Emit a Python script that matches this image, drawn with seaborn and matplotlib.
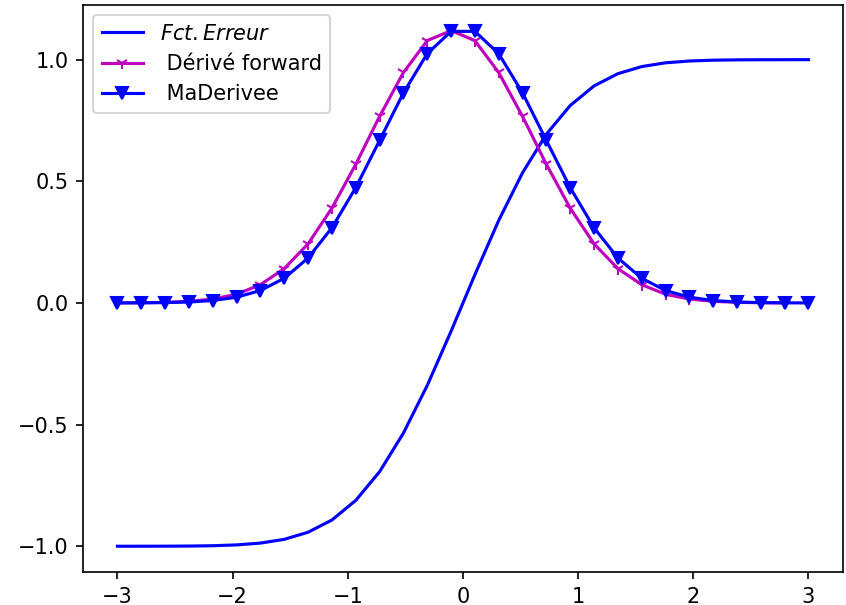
import matplotlib
matplotlib.use("Agg")
import matplotlib.pyplot as plt
import seaborn as sns

# x grid (30 points from -3 to 3)
x = [-3.000, -2.793, -2.586, -2.379, -2.172, -1.966, -1.759, -1.552, -1.345, -1.138,
     -0.931, -0.724, -0.517, -0.310, -0.103, 0.103, 0.310, 0.517, 0.724, 0.931,
     1.138, 1.345, 1.552, 1.759, 1.966, 2.172, 2.379, 2.586, 2.793, 3.000]

# error function curve
erreur = [-1.0000, -0.9999, -0.9997, -0.9992, -0.9979, -0.9945, -0.9871, -0.9716, -0.9424, -0.8921,
          -0.8115, -0.6936, -0.5349, -0.3389, -0.1158, 0.1158, 0.3389, 0.5349, 0.6936, 0.8115,
          0.8921, 0.9424, 0.9716, 0.9871, 0.9945, 0.9979, 0.9992, 0.9997, 0.9999, 1.0000]

# forward difference derivative (one point less)
forward = [0.0003, 0.0009, 0.0025, 0.0067, 0.0160, 0.0357, 0.0751, 0.1411, 0.2431, 0.3896,
           0.5698, 0.7670, 0.9473, 1.0783, 1.1194, 1.0783, 0.9473, 0.7670, 0.5698, 0.3896,
           0.2431, 0.1411, 0.0751, 0.0357, 0.0160, 0.0067, 0.0025, 0.0009, 0.0003]

# exact derivative
derivee = [0.0001, 0.0005, 0.0014, 0.0039, 0.0101, 0.0236, 0.0511, 0.1014, 0.1848, 0.3090,
           0.4740, 0.6679, 0.8636, 1.0248, 1.1164, 1.1164, 1.0248, 0.8636, 0.6679, 0.4740,
           0.3090, 0.1848, 0.1014, 0.0511, 0.0236, 0.0101, 0.0039, 0.0014, 0.0005, 0.0001]

fig, ax = plt.subplots(figsize=(846 / 150, 605 / 150), dpi=150)
fig.subplots_adjust(left=0.098, right=0.9965, bottom=0.0545, top=0.992)

sns.lineplot(x=x, y=erreur, color='b', label='$Fct. Erreur$', ax=ax)
sns.lineplot(x=x[:-1], y=forward, color='m', marker='1', markeredgecolor='m',
             markeredgewidth=1.0, label=' Dérivé forward', ax=ax)
sns.lineplot(x=x, y=derivee, color='b', marker='v', markeredgecolor='b',
             markeredgewidth=1.0, label=' MaDerivee', ax=ax)

ax.set_xticks([-3, -2, -1, 0, 1, 2, 3])
ax.set_yticks([-1.0, -0.5, 0.0, 0.5, 1.0])
ax.legend(loc='upper left')

plt.savefig('out.png', dpi=150)
